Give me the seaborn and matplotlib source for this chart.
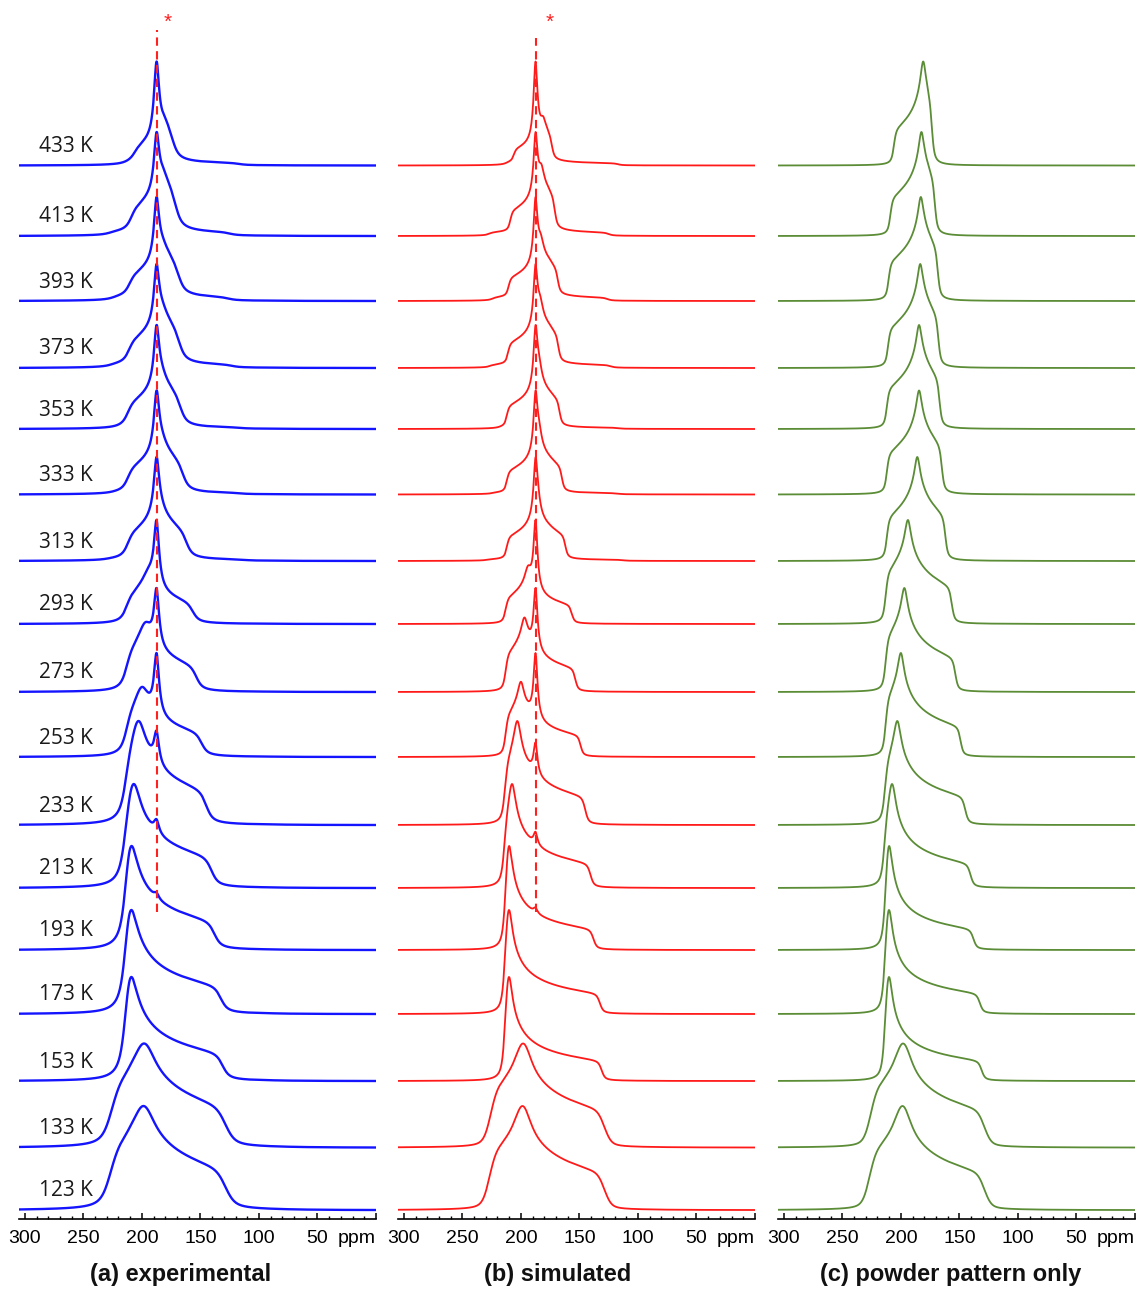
import numpy as np
import pandas as pd
import seaborn as sns
import matplotlib.pyplot as plt

# ---------------------------------------------------------------------------
# Variable-temperature 13C spectra: CSA powder pattern + isotropic line at
# 187.5 ppm + weak broad component (high temperatures only)
# ---------------------------------------------------------------------------
temps = [433, 413, 393, 373, 353, 333, 313, 293, 273, 253, 233, 213, 193, 173, 153, 133, 123]

# principal values of the main shielding tensor (ppm)
delta11 = [206.0, 209.0, 210.5, 211.0, 212.0, 212.0, 212.0, 213.0, 213.0, 213.0, 213.5, 214.0, 213.0, 213.5, 213.5, 226.0, 227.0]
delta22 = [181.0, 182.5, 183.0, 183.5, 184.5, 184.5, 186.0, 194.0, 197.0, 200.0, 203.0, 207.5, 210.5, 210.5, 210.5, 198.0, 198.5]
delta33 = [173.5, 171.0, 168.5, 168.0, 167.0, 165.0, 162.0, 156.5, 153.5, 149.0, 145.0, 140.5, 138.0, 132.5, 131.0, 128.5, 128.5]

# line broadening of the powder pattern (Lorentzian HWHM, Gaussian sigma; ppm)
lb_lorentz = [1.2, 1.2, 1.2, 1.2, 1.2, 1.2, 1.2, 1.2, 1.2, 1.2, 1.4, 1.5, 1.5, 1.5, 1.5, 2.0, 2.0]
lb_gauss = [0.8, 0.8, 0.8, 0.8, 0.8, 0.8, 0.8, 1.0, 1.0, 1.0, 1.2, 1.2, 1.2, 1.2, 1.2, 3.5, 3.5]

# relative heights of the three contributions in the simulated spectra
main_height = [0.39, 0.60, 0.55, 0.60, 0.60, 0.60, 0.65, 0.58, 0.69, 0.80, 1.00, 1.00, 1.00, 1.00, 1.00, 1.00, 1.00]
iso_height = [0.80, 0.60, 0.65, 0.60, 0.60, 0.60, 0.60, 0.75, 0.58, 0.70, 0.30, 0.12, 0.05, 0.00, 0.00, 0.00, 0.00]
iso_shift = 187.5
iso_hwhm = 2.0

# broad minor component
wide11 = [212.0, 227.0, 224.0, 226.0, 218.0, 224.0, 229.0, 0, 0, 0, 0, 0, 0, 0, 0, 0, 0]
wide22 = [178.0, 176.0, 176.0, 176.0, 176.0, 176.0, 176.0, 0, 0, 0, 0, 0, 0, 0, 0, 0, 0]
wide33 = [117.0, 125.0, 126.0, 123.0, 116.0, 116.0, 112.0, 0, 0, 0, 0, 0, 0, 0, 0, 0, 0]
wide_height = [0.06, 0.08, 0.08, 0.07, 0.03, 0.03, 0.03, 0, 0, 0, 0, 0, 0, 0, 0, 0, 0]

# extra broadening of the measured spectra (ppm)
exp_extra_lorentz = 2.0
exp_extra_gauss = 1.5

panel_titles = ["(a) experimental", "(b) simulated", "(c) powder pattern only"]
tick_values = [300, 250, 200, 150, 100, 50, 0]
tick_labels = ["300", "250", "200", "150", "100", "50", "ppm"]

# ---------------------------------------------------------------------------
# lineshape helpers
# ---------------------------------------------------------------------------
STEP = 0.25
grid = np.arange(-20.0, 330.0 + STEP / 2, STEP)
edges = np.concatenate([grid - STEP / 2, [grid[-1] + STEP / 2]])

N_ORI = 700
_u = (np.arange(N_ORI) + 0.5) / N_ORI
_phi = (np.arange(N_ORI) + 0.5) / N_ORI * (np.pi / 2)
U, PHI = np.meshgrid(_u, _phi)
COS2P = np.cos(PHI) ** 2


def powder(d11, d22, d33):
    """static CSA powder pattern on the ppm grid (uniform orientation grid)"""
    s2 = 1.0 - U ** 2
    shift = d33 * U ** 2 + s2 * (d11 * COS2P + d22 * (1.0 - COS2P))
    hist, _ = np.histogram(shift, bins=edges)
    return hist.astype(float)


def broaden(y, lor, gau):
    x = np.arange(-500, 501) * STEP
    ker = lor / np.pi / (x ** 2 + lor ** 2)
    if gau > 0:
        g = np.exp(-x ** 2 / (2 * gau ** 2))
        ker = np.convolve(ker, g / g.sum(), mode="same")
    ker /= ker.sum()
    return np.convolve(y, ker, mode="same")


def unit(y):
    return y / y.max()


def spectrum(i, extra_l=0.0, extra_g=0.0, main_only=False):
    lor = lb_lorentz[i] + extra_l
    gau = np.hypot(lb_gauss[i], extra_g)
    main = unit(broaden(powder(delta11[i], delta22[i], delta33[i]), lor, gau))
    if main_only:
        return main
    total = main_height[i] * main
    if iso_height[i] > 0:
        w = iso_hwhm + 0.3 * extra_l
        total = total + iso_height[i] * w ** 2 / ((grid - iso_shift) ** 2 + w ** 2)
    if wide_height[i] > 0:
        wide = unit(broaden(powder(wide11[i], wide22[i], wide33[i]), lor + 1.0, gau + 0.5))
        total = total + wide_height[i] * wide
    return unit(total)


# ---------------------------------------------------------------------------
# layout (pixel based, figure 1139 x 1289)
# ---------------------------------------------------------------------------
W, H = 1139, 1289
AX_Y = 1219                      # axis line, px from top
baseline_px = [165.5, 236, 301, 368, 429, 494.5, 561, 624, 692, 757, 825, 888, 950, 1014, 1081, 1147.5, 1210]
PEAK_PX = 104.0
panel_left = [19, 398, 778]
panel_width = 357
title_center = [181, 558, 951]
colors = ["#1414ff", "#ff1a1a", "#5b8c36"]
widths = [1.7, 1.3, 1.3]

sns.set_theme(style="white")
plt.rcParams["font.family"] = ["Liberation Sans", "DejaVu Sans"]

fig = plt.figure(figsize=(W / 100, H / 100), dpi=100)
mask = (grid >= 0) & (grid <= 305)

for p in range(3):
    ax = fig.add_axes([panel_left[p] / W, (H - AX_Y) / H, panel_width / W, AX_Y / H])
    ax.set_xlim(305, 0)
    ax.set_ylim(0, AX_Y)
    rows = []
    for i, t in enumerate(temps):
        if p == 0:
            y = spectrum(i, exp_extra_lorentz, exp_extra_gauss)
        elif p == 1:
            y = spectrum(i)
        else:
            y = spectrum(i, main_only=True)
        base = AX_Y - baseline_px[i]
        rows.append(pd.DataFrame({"ppm": grid[mask], "y": base + PEAK_PX * y[mask], "T": t}))
    df = pd.concat(rows, ignore_index=True)
    sns.lineplot(data=df, x="ppm", y="y", units="T", estimator=None, sort=False,
                 color=colors[p], lw=widths[p], ax=ax, legend=False)

    # isotropic marker line
    if p < 2:
        top = 30 if p == 0 else 38
        ax.plot([iso_shift, iso_shift], [AX_Y - 912, AX_Y - top], color="#ff2020",
                lw=1.5, dashes=(4, 2.6), zorder=5)
        ax.text(178 if p == 0 else 175.5, AX_Y - 22, "*", color="#ff2020",
                fontsize=15, ha="center", va="center")

    if p == 0:
        for i, t in enumerate(temps):
            ax.text(288, AX_Y - baseline_px[i] + 19, f"{t} K", fontsize=15,
                    family=["Open Sans", "DejaVu Sans"], color="#1a1a1a",
                    ha="left", va="center")

    ax.set_xlabel("")
    ax.set_ylabel("")
    ax.set_yticks([])
    for s in ["top", "left", "right"]:
        ax.spines[s].set_visible(False)
    ax.spines["bottom"].set_color("black")
    ax.spines["bottom"].set_linewidth(1.2)
    ax.set_xticks(tick_values)
    ax.set_xticklabels(tick_labels)
    ax.set_xticks(np.arange(0, 301, 10), minor=True)
    ax.tick_params(axis="x", which="major", direction="in", length=4, width=1.1,
                   colors="black", labelsize=14, pad=8, bottom=True)
    ax.tick_params(axis="x", which="minor", direction="in", length=2.5, width=1.0,
                   colors="black", bottom=True)
    ax.get_xticklabels()[-1].set_horizontalalignment("right")
    ax.patch.set_alpha(0)

    fig.text(title_center[p] / W, 1 - 1275 / H, panel_titles[p],
             ha="center", va="center", fontsize=17, fontweight="bold", color="#111111")

fig.savefig("out.png", dpi=100)
